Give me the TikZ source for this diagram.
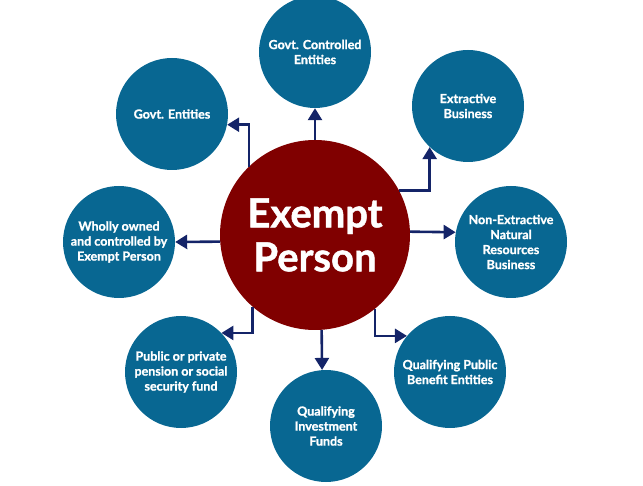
\documentclass[tikz,border=0pt]{standalone}
\usepackage{fontspec}
\setmainfont{Lato}[BoldFeatures={FakeBold=1.2}]
\usepackage{tikz}
\usetikzlibrary{arrows.meta,positioning}
\definecolor{spokeblue}{RGB}{8,103,146}
\definecolor{hubred}{RGB}{128,0,0}
\definecolor{linknavy}{RGB}{20,36,104}
\tikzstyle{arrow} = [
    line width=2.6pt,
    -{Triangle[length=12pt,width=14pt]},
    draw=linknavy
]

\begin{document}
\begin{tikzpicture}[
                x=1pt, y=-1pt,
                every node/.style={
                    circle,
                    text=white,
                    align=center,
                    inner sep=0pt,
                    font=\bfseries\fontsize{12.5}{15}\selectfont
                },
                spoke/.style={
                    fill=spokeblue,
                    minimum size=112pt
                },
                hub/.style={
                    fill=hubred,
                    minimum size=190pt,
                    font=\bfseries\fontsize{40}{44}\selectfont
                }
            ]
                \useasboundingbox (0,0) rectangle (643,486);
                \node[hub] (H) at (315,235) {Exempt\\Person};
                \node[spoke] (GC) at (315,52) {Govt. Controlled\\Entities};
                \node[spoke] (GE) at (172,114) {Govt. Entities};
                \node[spoke] (EB) at (468,106) {Extractive\\Business};
                \node[spoke] (WO) at (119,242) {Wholly owned\\and controlled by\\Exempt Person};
                \node[spoke] (NE) at (511,242) {Non-Extractive\\Natural\\Resources\\Business};
                \node[spoke] (PF) at (181,372) {Public or private\\pension or social\\security fund};
                \node[spoke] (IF) at (326,426) {Qualifying\\Investment\\Funds};
                \node[spoke] (PB) at (450,372) {Qualifying Public\\Benefit Entities};
                \draw[arrow] (H.north) -- (GC.south);
                \draw[arrow] (H.134) |- (GE.-11);
                \draw[arrow] (H.28) -| (EB.227);
                \draw[arrow] (H.184) -- (WO.east);
                \draw[arrow] (H.2) -- (NE.170);
                \draw[arrow] (H.229) |- (PF.44);
                \draw[arrow] (H.274) -- (IF.94);
                \draw[arrow] (H.309) |- (PB.140);
            \end{tikzpicture}
\end{document}
